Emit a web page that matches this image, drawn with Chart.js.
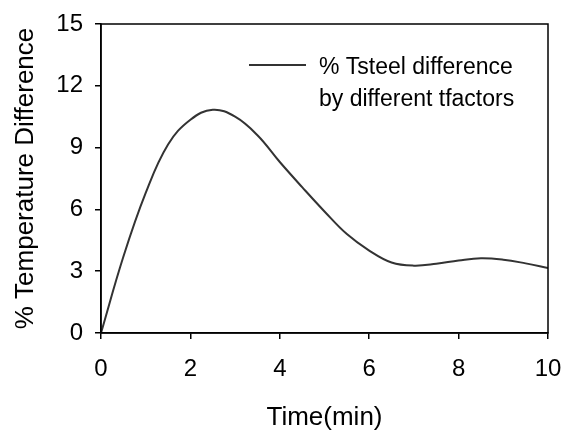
<!DOCTYPE html>
<html>
<head>
<meta charset="utf-8">
<script src="https://cdn.jsdelivr.net/npm/chart.js@4/dist/chart.umd.min.js"></script>
<style>
  html, body { margin: 0; padding: 0; background: #fff; }
  #wrap { width: 569px; height: 431px; position: relative; }
</style>
</head>
<body>
<div id="wrap"><canvas id="chart"></canvas></div>
<script>
// values
const times = [0, 0.5, 1, 1.5, 2, 2.5, 3, 3.5, 4, 4.5, 5, 5.5, 6, 6.5, 7, 7.5, 8, 8.5, 9, 9.5, 10];
const tempDiff = [0, 3.7, 6.8, 9.15, 10.35, 10.84, 10.5, 9.6, 8.3, 7.08, 5.9, 4.8, 4.0, 3.42, 3.27, 3.36, 3.52, 3.63, 3.56, 3.38, 3.16];
const seriesLabel = ['% Tsteel difference', 'by different tfactors'];
const xTicks = [0, 2, 4, 6, 8, 10];
const yTicks = [0, 3, 6, 9, 12, 15];

const FONT = 'Arial, "Liberation Sans", sans-serif';

// box round the plot + legend inside it
const frameAndLegend = {
    id: 'frameAndLegend',
    afterDraw(chart) {
        const { ctx, chartArea: a } = chart;
        ctx.save();
        ctx.strokeStyle = '#000';
        ctx.lineWidth = 1.5;
        ctx.strokeRect(a.left, a.top, a.right - a.left, a.bottom - a.top);

        // legend
        const lx = a.left + 148, ly = a.top + 41;
        ctx.strokeStyle = '#333';
        ctx.lineWidth = 2;
        ctx.beginPath();
        ctx.moveTo(lx, ly);
        ctx.lineTo(lx + 57, ly);
        ctx.stroke();
        ctx.fillStyle = '#000';
        ctx.font = '23px ' + FONT;
        ctx.textBaseline = 'middle';
        ctx.textAlign = 'left';
        seriesLabel.forEach((t, i) => ctx.fillText(t, lx + 70, ly + 3 + i * 32));
        ctx.restore();
    }
};

new Chart(document.getElementById('chart'), {
    type: 'line',
    data: {
        datasets: [{
            label: seriesLabel.join(' '),
            data: times.map((t, i) => ({ x: t, y: tempDiff[i] })),
            borderColor: '#333',
            borderWidth: 2,
            pointRadius: 0,
            fill: false,
            tension: 0.4
        }]
    },
    options: {
        responsive: true,
        maintainAspectRatio: false,
        animation: false,
        layout: { padding: { top: 24, right: 21, left: 0, bottom: 0 } },
        plugins: { legend: { display: false }, tooltip: { enabled: false } },
        scales: {
            x: {
                type: 'linear',
                min: 0, max: 10,
                afterBuildTicks: s => { s.ticks = xTicks.map(v => ({ value: v })); },
                afterFit: s => { s.height = 98; s.paddingLeft = 0; s.paddingRight = 0; },
                grid: { drawOnChartArea: false, drawTicks: true, tickLength: 6, color: '#000', lineWidth: 1.5 },
                border: { color: '#000', width: 1.5 },
                ticks: { color: '#000', font: { family: FONT, size: 24 }, padding: 16, maxRotation: 0 },
                title: { display: true, text: 'Time(min)', color: '#000', font: { family: FONT, size: 26, lineHeight: 1 }, padding: { top: 0, bottom: 0 } }
            },
            y: {
                min: 0, max: 15,
                afterBuildTicks: s => { s.ticks = yTicks.map(v => ({ value: v })); },
                afterFit: s => { s.width = 101; s.paddingTop = 0; s.paddingBottom = 0; },
                grid: { drawOnChartArea: false, drawTicks: true, tickLength: 6, color: '#000', lineWidth: 1.5 },
                border: { color: '#000', width: 1.5 },
                ticks: { color: '#000', font: { family: FONT, size: 24 }, padding: 12 },
                title: { display: true, text: '% Temperature Difference', color: '#000', font: { family: FONT, size: 26, lineHeight: 1 }, padding: { top: 13, bottom: 0 } }
            }
        }
    },
    plugins: [frameAndLegend]
});
</script>
</body>
</html>
